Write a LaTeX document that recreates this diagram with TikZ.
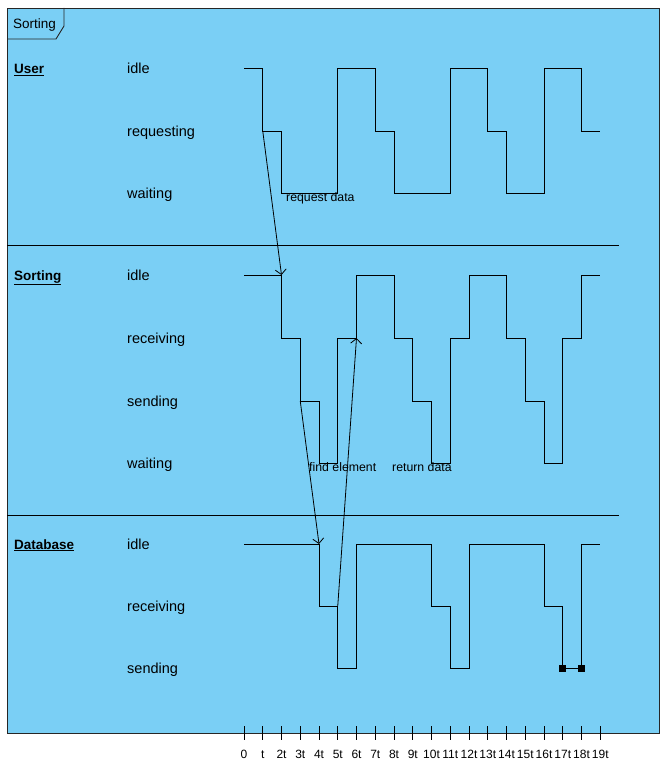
\documentclass[tikz,border=0pt]{standalone}
\usepackage{fontspec}
\setmainfont{Liberation Sans}
\usetikzlibrary{arrows.meta}
\definecolor{framebg}{RGB}{122,207,245}
\begin{document}
\begin{tikzpicture}[x=1pt,y=-1pt,
  wave/.style={line width=1pt,black},
  msg/.style={line width=0.8pt,black,-{Straight Barb[length=5pt,width=11pt]}},
  sep/.style={line width=0.9pt,black},
  statelbl/.style={anchor=base west,inner sep=0pt,font=\fontsize{14.5}{16}\selectfont},
  lifelbl/.style={anchor=base west,inner sep=0pt,font=\fontsize{13.5}{16}\selectfont\bfseries},
  msglbl/.style={anchor=base west,inner sep=0pt,font=\fontsize{12.3}{14}\selectfont},
  ticklbl/.style={anchor=base,inner sep=0pt,font=\fontsize{12}{14}\selectfont},
  marker/.style={fill=black,minimum size=7pt,inner sep=0pt,draw=none,rectangle}]
\useasboundingbox (0,0) rectangle (667,768);
% frame
\fill[framebg] (7,8) rectangle (659,733);
\draw[line width=0.9pt,black!85] (7,8) rectangle (659,733);
\draw[line width=0.9pt,black!85] (7,39) -- (56,39) -- (64,26) -- (64,8);
\node[anchor=base west,inner sep=0pt,font=\fontsize{13.5}{16}\selectfont] (title) at (13,29) {Sorting};
% separators
\draw[sep] (7,245) -- (619,245);
\draw[sep] (7,515) -- (619,515);
% lifeline names
\node[lifelbl] (nUser) at (14,74) {\underline{User}};
\node[lifelbl] (nSort) at (14,280) {\underline{Sorting}};
\node[lifelbl] (nDb) at (14,549) {\underline{Database}};
% state labels
\node[statelbl] (uIdle) at (127,74) {idle};
\node[statelbl] (uReq) at (127,136) {requesting};
\node[statelbl] (uWait) at (127,198) {waiting};
\node[statelbl] (sIdle) at (127,280) {idle};
\node[statelbl] (sRecv) at (127,343) {receiving};
\node[statelbl] (sSend) at (127,406) {sending};
\node[statelbl] (sWait) at (127,468) {waiting};
\node[statelbl] (dIdle) at (127,549) {idle};
\node[statelbl] (dRecv) at (127,611) {receiving};
\node[statelbl] (dSend) at (127,673) {sending};
% waveforms
\draw[wave] (244,69) -- (262.75,69) -- (262.75,131) -- (281.5,131) -- (281.5,193) -- (337.75,193) -- (337.75,69) -- (375.25,69) -- (375.25,131) -- (394,131) -- (394,193) -- (450.25,193) -- (450.25,69) -- (487.75,69) -- (487.75,131) -- (506.5,131) -- (506.5,193) -- (544,193) -- (544,69) -- (581.5,69) -- (581.5,131) -- (600.25,131);
\draw[wave] (244,275) -- (281.5,275) -- (281.5,338) -- (300.25,338) -- (300.25,401) -- (319,401) -- (319,463) -- (337.75,463) -- (337.75,338) -- (356.5,338) -- (356.5,275) -- (394,275) -- (394,338) -- (412.75,338) -- (412.75,401) -- (431.5,401) -- (431.5,463) -- (450.25,463) -- (450.25,338) -- (469,338) -- (469,275) -- (506.5,275) -- (506.5,338) -- (525.25,338) -- (525.25,401) -- (544,401) -- (544,463) -- (562.75,463) -- (562.75,338) -- (581.5,338) -- (581.5,275) -- (600.25,275);
\draw[wave] (244,544) -- (319,544) -- (319,606) -- (337.75,606) -- (337.75,668) -- (356.5,668) -- (356.5,544) -- (431.5,544) -- (431.5,606) -- (450.25,606) -- (450.25,668) -- (469,668) -- (469,544) -- (544,544) -- (544,606) -- (562.75,606) -- (562.75,668) -- (581.5,668) -- (581.5,544) -- (600.25,544);
% duration markers
\node[marker] (mkA) at (562.75,668) {};
\node[marker] (mkB) at (581.5,668) {};
% message end points
\coordinate (m1s) at (262.75,131);
\coordinate (m1e) at (281.5,275);
\coordinate (m2s) at (300.25,401);
\coordinate (m2e) at (319,544);
\coordinate (m3s) at (337.75,606);
\coordinate (m3e) at (356.5,338);
\draw[msg] (m1s) -- (m1e);
\draw[msg] (m2s) -- (m2e);
\draw[msg] (m3s) -- (m3e);
% message labels
\node[msglbl] (lReq) at (286,201) {request data};
\node[msglbl] (lFind) at (309,471) {find element};
\node[msglbl] (lRet) at (392,471) {return data};
% time axis
\foreach \i/\lab in {0/0,1/t,2/2t,3/3t,4/4t,5/5t,6/6t,7/7t,8/8t,9/9t,10/10t,11/11t,12/12t,13/13t,14/14t,15/15t,16/16t,17/17t,18/18t,19/19t}{
  \draw[line width=0.9pt] ({244+18.75*\i},726) -- ({244+18.75*\i},740);
  \node[ticklbl] (tk\i) at ({244+18.75*\i},758) {\lab};
}
\end{tikzpicture}
\end{document}
